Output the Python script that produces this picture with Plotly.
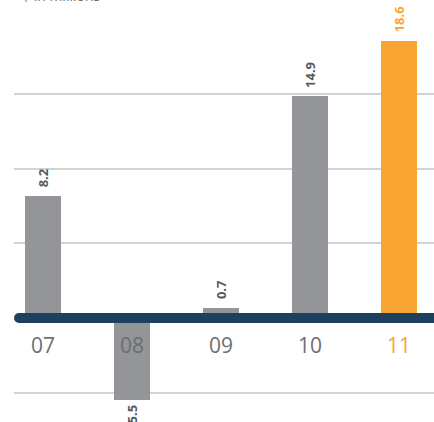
import plotly.graph_objects as go

# Annual results, $ in millions
years = ["07", "08", "09", "10", "11"]
values = [8.2, -5.5, 0.7, 14.9, 18.6]
value_labels = ["8.2", "5.5", "0.7", "14.9", "18.6"]
grid_values = [-5, 5, 10, 15]

GRAY = "#939598"
ORANGE = "#F9A533"
NAVY = "#1F3F5F"
TEXT_GRAY = "#6D6E71"
LABEL_GRAY = "#58595B"

bar_colors = [ORANGE if y == years[-1] else GRAY for y in years]
label_colors = [ORANGE if y == years[-1] else LABEL_GRAY for y in years]
tick_colors = [ORANGE if y == years[-1] else TEXT_GRAY for y in years]

W, H = 434, 422
ML = 14

fig = go.Figure()
fig.add_trace(go.Bar(
    x=list(range(len(years))),
    y=values,
    width=0.405,
    marker=dict(color=bar_colors, line=dict(width=0)),
    hoverinfo="skip",
))

# Rotated value labels beyond the end of each bar
for i, (v, lab, col) in enumerate(zip(values, value_labels, label_colors)):
    fig.add_annotation(
        x=i, y=v, xref="x", yref="y", text=lab, showarrow=False,
        textangle=-90,
        yanchor="bottom" if v >= 0 else "top",
        yshift=6 if v >= 0 else -3,
        font=dict(family="Liberation Sans Narrow, Open Sans", size=13, color=col, weight="bold"),
    )

# Category labels sit just under the baseline
for i, (yr, col) in enumerate(zip(years, tick_colors)):
    fig.add_annotation(
        x=i, y=0, xref="x", yref="y", text=yr, showarrow=False,
        yanchor="middle", yshift=-27,
        font=dict(family="Open Sans", size=21, color=col),
    )

# Units caption at the top edge
fig.add_annotation(
    x=(20 - ML) / (W - ML), y=1, xref="paper", yref="paper",
    xanchor="left", yanchor="bottom", yshift=-7,
    text="$ in millions", showarrow=False,
    font=dict(family="Open Sans", size=14, color=TEXT_GRAY),
)

# Thick baseline with a rounded left end
cap = 5 / (W - ML)
fig.add_shape(type="line", xref="paper", yref="y", x0=cap, x1=1, y0=0, y1=0,
              line=dict(color=NAVY, width=10), layer="above")
fig.add_shape(type="circle", xref="paper", yref="y", xsizemode="pixel", ysizemode="pixel",
              xanchor=cap, yanchor=0, x0=-5, x1=5, y0=-5, y1=5,
              fillcolor=NAVY, line=dict(width=0), layer="above")

fig.update_layout(
    width=W, height=H,
    margin=dict(l=ML, r=0, t=0, b=0),
    paper_bgcolor="white", plot_bgcolor="white",
    showlegend=False,
    bargap=0,
    xaxis=dict(range=[-0.326, 4.393], showgrid=False, showticklabels=False,
               zeroline=False, showline=False, ticks=""),
    yaxis=dict(range=[-6.98, 21.34], tickvals=grid_values, showgrid=True,
               gridcolor="#D1D3D4", gridwidth=1.5, showticklabels=False,
               zeroline=False, showline=False, ticks=""),
)

fig.write_html("out.html")
